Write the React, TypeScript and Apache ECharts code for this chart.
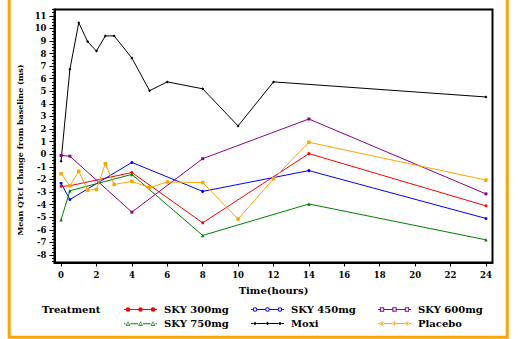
import React, { useEffect, useRef } from "react";
import * as echarts from "echarts";

// ---------- data ----------
const xTicks = [0, 2, 4, 6, 8, 10, 12, 14, 16, 18, 20, 22, 24];
const yTicks = [-8, -7, -6, -5, -4, -3, -2, -1, 0, 1, 2, 3, 4, 5, 6, 7, 8, 9, 10, 11];

const skyHours = [0, 0.5, 4, 8, 14, 24];
const sky300 = [-2.55, -2.5, -1.45, -5.45, 0.05, -4.1];
const sky450 = [-2.3, -3.6, -0.65, -2.95, -1.3, -5.1];
const sky600 = [-0.1, -0.15, -4.6, -0.35, 2.8, -3.15];
const sky750 = [-5.2, -2.9, -1.6, -6.45, -3.95, -6.8];

const moxiHours = [0, 0.5, 1, 1.5, 2, 2.5, 3, 4, 5, 6, 8, 10, 12, 24];
const moxi = [-0.55, 6.75, 10.45, 8.95, 8.2, 9.4, 9.4, 7.65, 5.05, 5.75, 5.2, 2.25, 5.75, 4.55];

const placeboHours = [0, 0.5, 1, 1.5, 2, 2.5, 3, 4, 5, 6, 8, 10, 12, 14, 24];
const placebo = [-1.55, -2.5, -1.35, -2.85, -2.8, -0.75, -2.4, -2.15, -2.65, -2.2, -2.25, -5.15, -1.95, 0.95, -2.05];

const seriesNames = ["SKY 300mg", "SKY 450mg", "SKY 600mg", "SKY 750mg", "Moxi", "Placebo"];
const colors = ["#ff0000", "#0000ff", "#8b008b", "#008000", "#000000", "#ffa500"];

// ---------- legend icons ----------
const MARKS = [4, 16.5, 29];
const W = 33;

function seg(x1: number, x2: number) {
  return `M${x1},3 L${x2},3 L${x2},4 L${x1},4 Z `;
}
function lineSegs(r: number) {
  let d = "";
  let prev = 0;
  for (const cx of MARKS) {
    d += seg(prev, cx - r);
    prev = cx + r;
  }
  d += seg(prev, W);
  return d;
}
function circ(cx: number, r: number, cw: boolean) {
  const s = cw ? 1 : 0;
  return `M${cx - r},3.5 A${r},${r} 0 1 ${s} ${cx + r},3.5 A${r},${r} 0 1 ${s} ${cx - r},3.5 Z `;
}
function sq(cx: number, r: number, cw: boolean) {
  return cw
    ? `M${cx - r},${3.5 - r} L${cx + r},${3.5 - r} L${cx + r},${3.5 + r} L${cx - r},${3.5 + r} Z `
    : `M${cx - r},${3.5 - r} L${cx - r},${3.5 + r} L${cx + r},${3.5 + r} L${cx + r},${3.5 - r} Z `;
}
function tri(cx: number, r: number, cw: boolean) {
  const top = 3.5 - r;
  const bot = 3.5 + r * 0.8;
  return cw
    ? `M${cx - r},${bot} L${cx},${top} L${cx + r},${bot} Z `
    : `M${cx - r},${bot} L${cx + r},${bot} L${cx},${top} Z `;
}
function dia(cx: number, r: number) {
  return `M${cx},${3.5 - r} L${cx + r},3.5 L${cx},${3.5 + r} L${cx - r},3.5 Z `;
}
function star(cx: number) {
  let d = "";
  for (let k = 0; k < 12; k++) {
    const a = (k * 30 - 90) * (Math.PI / 180);
    const rr = k % 2 === 0 ? 3 : 0.9;
    d += `${k === 0 ? "M" : "L"}${(cx + rr * Math.cos(a)).toFixed(2)},${(3.5 + rr * Math.sin(a)).toFixed(2)} `;
  }
  return d + "Z ";
}

const iconPaths: Record<string, string> = {
  "SKY 300mg": "path://" + lineSegs(2.3) + MARKS.map((c) => circ(c, 2.3, true)).join(""),
  "SKY 450mg": "path://" + lineSegs(2.3) + MARKS.map((c) => circ(c, 2.3, true) + circ(c, 1.3, false)).join(""),
  "SKY 600mg": "path://" + lineSegs(2.2) + MARKS.map((c) => sq(c, 2.2, true) + sq(c, 1.2, false)).join(""),
  "SKY 750mg": "path://" + lineSegs(2.5) + MARKS.map((c) => tri(c, 2.5, true) + tri(c, 1.3, false)).join(""),
  Moxi: "path://" + lineSegs(1.8) + MARKS.map((c) => dia(c, 1.8)).join(""),
  Placebo: "path://" + lineSegs(2.2) + MARKS.map((c) => star(c)).join(""),
};

const SERIF = "DejaVu Serif";

function pairs(xs: number[], ys: number[]) {
  return xs.map((x, i) => [x, ys[i]]);
}

export default function App() {
  const ref = useRef<HTMLDivElement>(null);

  useEffect(() => {
    document.body.style.margin = "0";
    if (!ref.current) return;
    const chart = echarts.init(ref.current, null, { renderer: "svg" });

    const minorTicks: number[] = [];
    for (let v = -8.5; v <= 11.5; v += 0.25) {
      if (Math.abs(v - Math.round(v)) > 0.01) minorTicks.push(Number(v.toFixed(2)));
    }

    const seriesData = [
      pairs(skyHours, sky300),
      pairs(skyHours, sky450),
      pairs(skyHours, sky600),
      pairs(skyHours, sky750),
      pairs(moxiHours, moxi),
      pairs(placeboHours, placebo),
    ];
    const symbols = ["circle", "circle", "rect", "triangle", "diamond", "rect"];
    const sizes = [3, 3, 3, 3.5, 3, 3.5];

    const legendText = {
      fontFamily: SERIF,
      fontWeight: "bold" as const,
      fontSize: 10,
      color: "#000",
      lineHeight: 14,
    };
    const makeLegend = (left: number, names: string[]) => ({
      orient: "vertical" as const,
      left,
      top: 302.5,
      itemWidth: 33,
      itemHeight: 7,
      itemGap: 0,
      padding: 0,
      selectedMode: false,
      symbolKeepAspect: true,
      textStyle: { ...legendText, padding: [0, 0, 0, 2] },
      itemStyle: { borderWidth: 0 },
      data: names.map((n) => ({ name: n, icon: iconPaths[n] })),
    });

    const tickLabel = {
      margin: 8,
      fontFamily: SERIF,
      fontWeight: "bold" as const,
      fontSize: 8.5,
      color: "#000",
    };

    chart.setOption({
      animation: false,
      backgroundColor: "#fff",
      grid: {
        left: 54.5,
        top: 9.5,
        width: 438,
        height: 253,
        show: true,
        borderColor: "#000",
        borderWidth: 2,
        backgroundColor: "transparent",
      },
      xAxis: {
        type: "value",
        min: -0.37,
        max: 24.37,
        name: "Time(hours)",
        nameLocation: "middle",
        nameGap: 23,
        nameTextStyle: { fontFamily: SERIF, fontWeight: "bold", fontSize: 10, color: "#000" },
        axisLine: { show: true, onZero: false, lineStyle: { color: "#000", width: 2 } },
        axisTick: { show: true, customValues: xTicks, length: 4, lineStyle: { color: "#000", width: 1 } },
        axisLabel: { ...tickLabel, customValues: xTicks },
        splitLine: { show: false },
      },
      yAxis: [
        {
          type: "value",
          min: -8.6,
          max: 11.5,
          axisLine: { show: true, onZero: false, lineStyle: { color: "#000", width: 2 } },
          axisTick: { show: true, customValues: yTicks, length: 5, lineStyle: { color: "#000", width: 1 } },
          axisLabel: { ...tickLabel, customValues: yTicks },
          splitLine: { show: false },
        },
        {
          type: "value",
          min: -8.6,
          max: 11.5,
          position: "left",
          axisLine: { show: false, onZero: false },
          axisTick: { show: true, customValues: minorTicks, length: 2.5, lineStyle: { color: "#000", width: 1 } },
          axisLabel: { show: false },
          splitLine: { show: false },
        },
      ],
      legend: [
        makeLegend(124, ["SKY 300mg", "SKY 750mg"]),
        makeLegend(251, ["SKY 450mg", "Moxi"]),
        makeLegend(378, ["SKY 600mg", "Placebo"]),
      ],
      graphic: [
        {
          type: "rect",
          shape: { x: 9.2, y: -10, width: 498, height: 347.2 },
          style: { fill: "none", stroke: "#ffa500", lineWidth: 3 },
          silent: true,
        },
        {
          type: "text",
          x: 20,
          y: 150,
          rotation: Math.PI / 2,
          style: {
            text: "Mean QTcI change from baseline (ms)",
            fontFamily: SERIF,
            fontWeight: "bold",
            fontSize: 8,
            fill: "#000",
            align: "center",
            verticalAlign: "middle",
          },
        },
        {
          type: "text",
          x: 42,
          y: 309,
          style: {
            text: "Treatment",
            fontFamily: SERIF,
            fontWeight: "bold",
            fontSize: 10,
            fill: "#000",
            align: "left",
            verticalAlign: "middle",
          },
        },
      ],
      series: seriesNames.map((name, i) => ({
        name,
        type: "line",
        data: seriesData[i],
        xAxisIndex: 0,
        yAxisIndex: 0,
        symbol: symbols[i],
        symbolSize: sizes[i],
        showSymbol: true,
        lineStyle: { color: colors[i], width: 1 },
        itemStyle: { color: colors[i], borderWidth: 0 },
        emphasis: { disabled: true },
      })),
    });

    return () => chart.dispose();
  }, []);

  return <div ref={ref} style={{ width: 522, height: 339 }} />;
}
